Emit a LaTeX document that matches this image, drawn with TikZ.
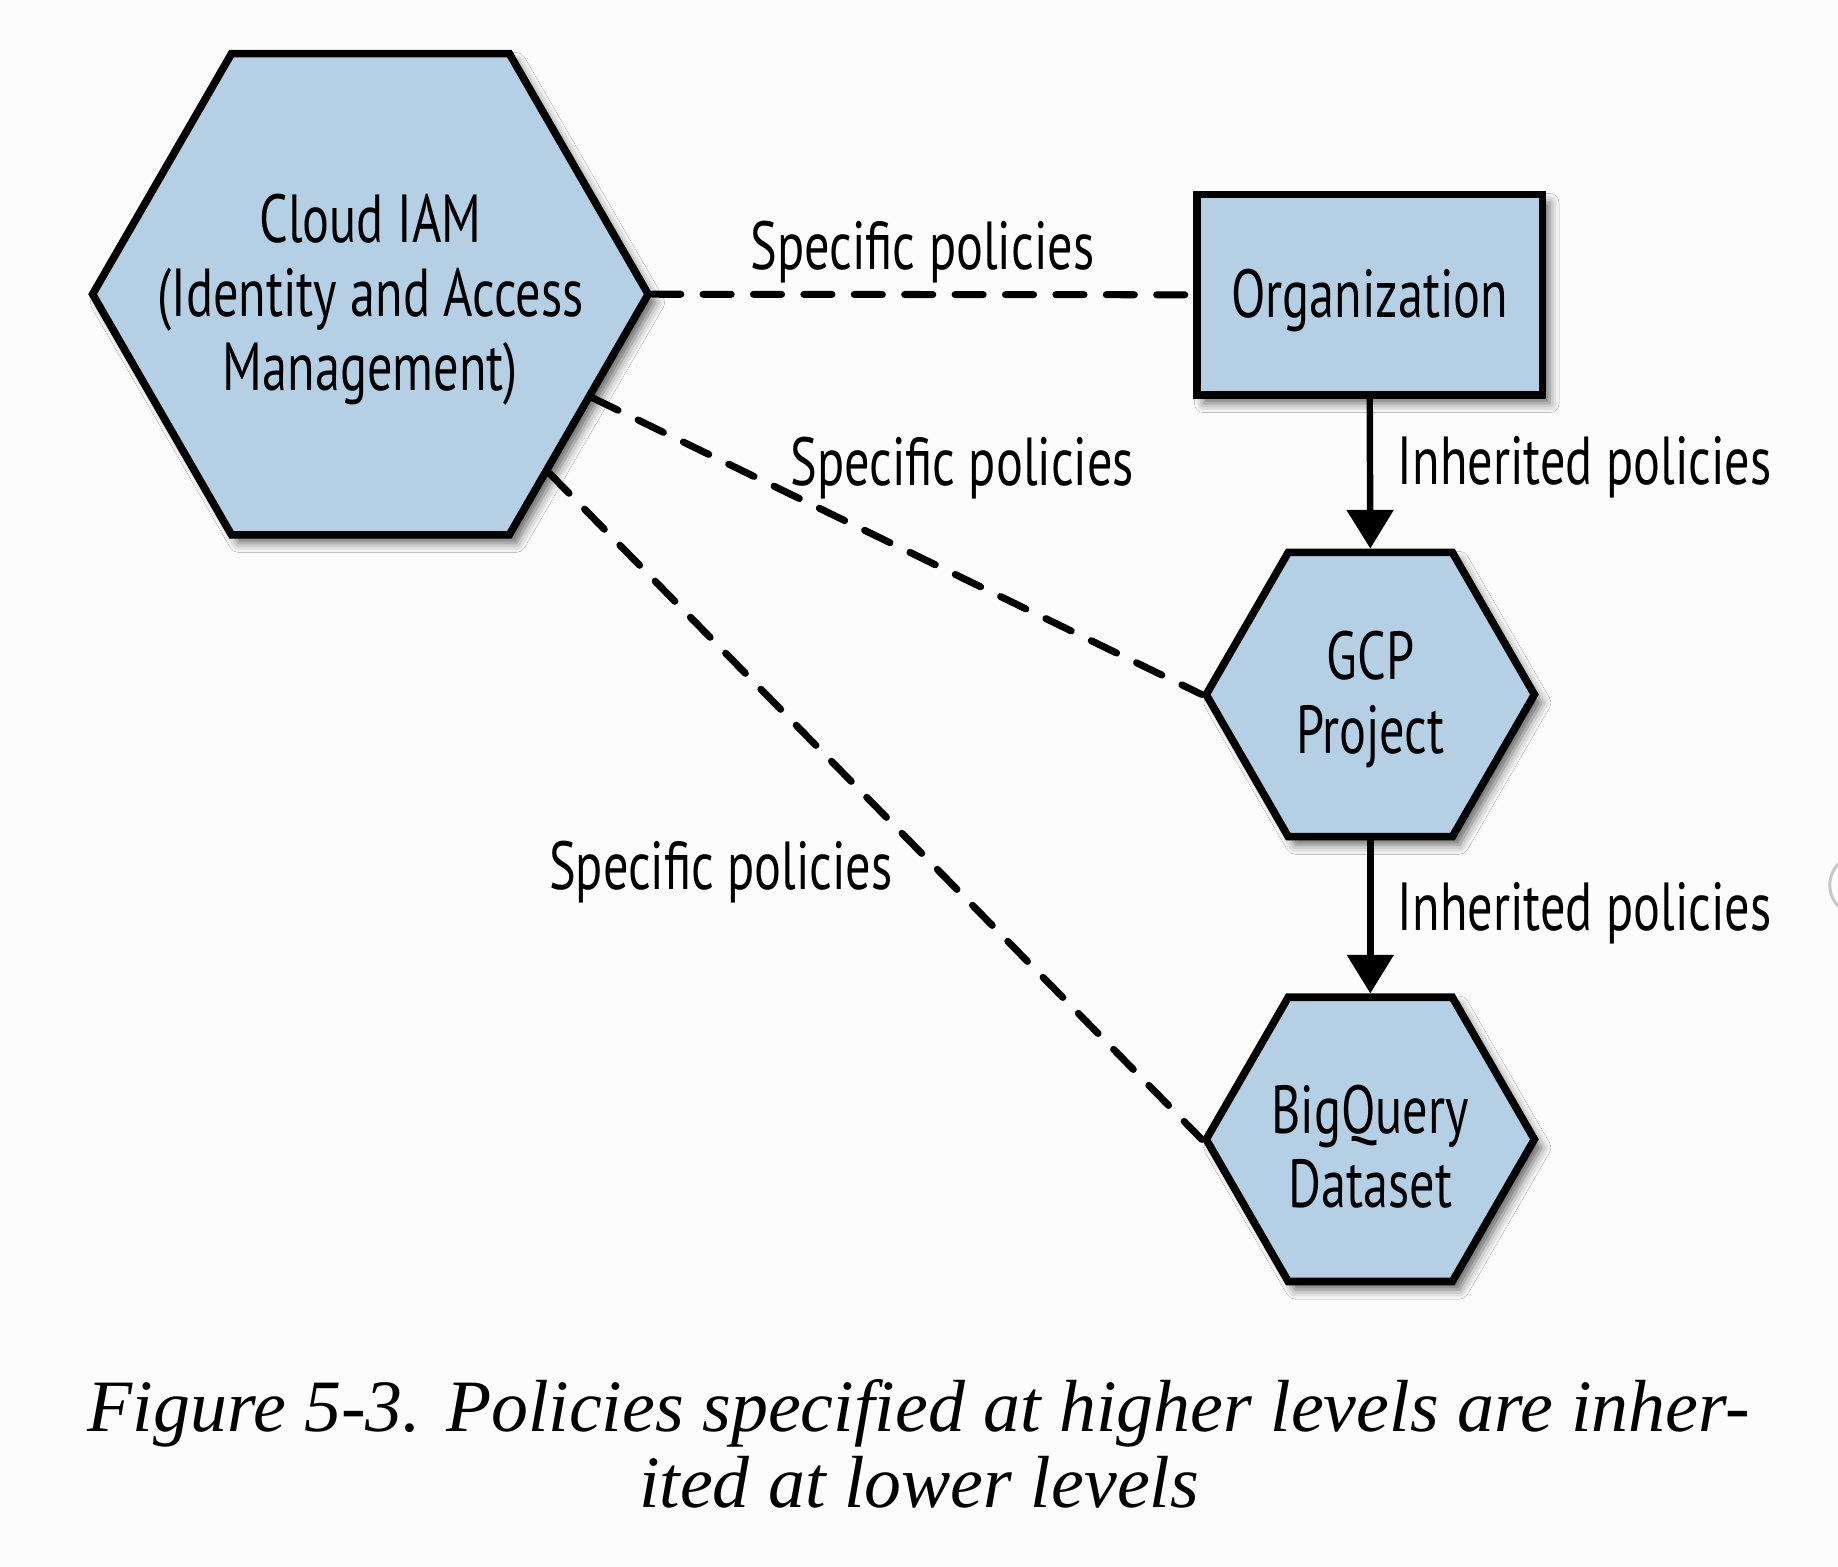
\documentclass[tikz,border=0pt]{standalone}
\usepackage{fontspec}
\setmainfont{Liberation Serif}
\newfontfamily\diafont[FakeStretch=0.74]{PT Sans}
\usetikzlibrary{shapes.geometric,arrows.meta,shadows.blur}
\definecolor{hexfill}{RGB}{181,208,229}
\definecolor{bgc}{RGB}{252,252,252}
\begin{document}
\begin{tikzpicture}[x=1pt,y=-1pt,
  shapestyle/.style={draw=black, line width=6.5pt, fill=hexfill, line join=miter,
    blur shadow={shadow xshift=6pt, shadow yshift=-7pt, shadow blur radius=8pt, shadow opacity=60}},
  hexa/.style={shapestyle, regular polygon, regular polygon sides=6, inner sep=0pt},
  lbl/.style={font=\diafont\fontsize{58}{63}\selectfont, align=center, inner sep=0pt},
  dashline/.style={line width=6pt, dash pattern=on 24pt off 19pt, line cap=round},
  inh/.style={line width=5.5pt, -{Triangle[length=33pt,width=39pt]}},
  captxt/.style={font=\itshape\fontsize{63}{65}\selectfont, inner sep=0pt, anchor=base}
]
\fill[bgc] (0,0) rectangle (1568,1336);
\useasboundingbox (0,0) rectangle (1568,1336);

% shapes
\node[hexa, minimum size=474pt] (iam) at (316,251) {};
\node[shapestyle, minimum width=295pt, minimum height=171pt, inner sep=0pt] (org) at (1168.5,251.5) {};
\node[hexa, minimum size=280pt] (gcp) at (1169,592.5) {};
\node[hexa, minimum size=280pt] (bq) at (1169,972) {};

% texts in shapes
\node[lbl] (iamtext) at (316,256) {Cloud IAM\\(Identity and Access\\Management)};
\node[lbl] (orgtext) at (1168.5,256) {Organization};
\node[lbl] (gcptext) at (1169,597) {GCP\\Project};
\node[lbl] (bqtext) at (1169,978) {BigQuery\\Dataset};

% connectors
\draw[dashline] (iam.0) -- (org.west);
\draw[dashline] (iam.-25.5) -- (gcp.180);
\draw[dashline] (iam.-45.4) -- (bq.180);
\draw[inh] (org.south) -- (gcp.north);
\draw[inh] (gcp.south) -- (bq.north);

% labels
\node[lbl, anchor=base] (sp1) at (787,230) {Specific policies};
\node[lbl, anchor=base] (sp2) at (821,414) {Specific policies};
\node[lbl, anchor=base] (sp3) at (615,759) {Specific policies};
\node[lbl, anchor=base] (ih1) at (1352,413) {Inherited policies};
\node[lbl, anchor=base] (ih2) at (1352,794) {Inherited policies};

% caption
\node[captxt] (cap1) at (784,1221) {Figure 5-3. Policies specified at higher levels are inher-};
\node[captxt] (cap2) at (784,1286) {ited at lower levels};

% edge artifact
\draw[black!22, line width=2.5pt] (1587,755) circle[radius=26];
\end{tikzpicture}
\end{document}
